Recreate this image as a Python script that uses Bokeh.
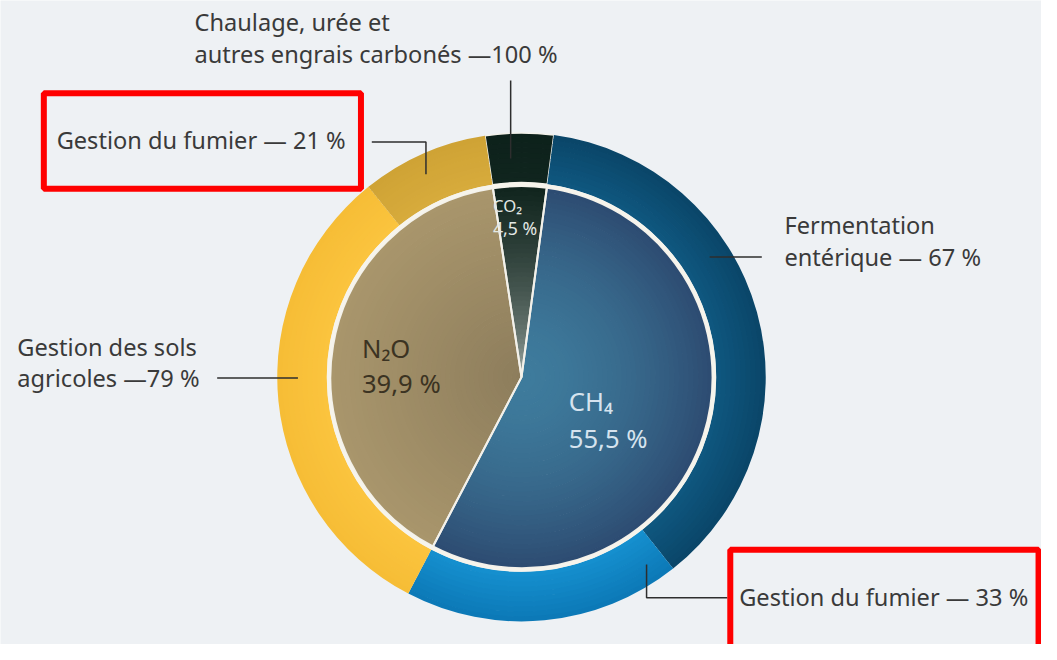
import numpy as np
from bokeh.plotting import figure
from bokeh.models import Range1d
from bokeh.embed import file_html
from bokeh.resources import INLINE
from bokeh.core.properties import value

# ---------------- data ----------------
gases = ["CO₂", "CH₄", "N₂O"]
gas_shares = [4.5, 55.5, 39.9]          # % of agricultural emissions

co2_sources = ["Chaulage, urée et autres engrais carbonés"]
co2_source_shares = [100]
ch4_sources = ["Fermentation entérique", "Gestion du fumier"]
ch4_source_shares = [67, 33]
n2o_sources = ["Gestion des sols agricoles", "Gestion du fumier"]
n2o_source_shares = [79, 21]

sources = [co2_sources, ch4_sources, n2o_sources]
source_shares = [co2_source_shares, ch4_source_shares, n2o_source_shares]

# ---------------- styles ----------------
BG = "#eef1f4"
FONT = "Noto Sans"
TXT = "#3a3a3a"
gas_grad = [("#c3ccc8", "#10241d"), ("#3e7b9c", "#2d4b71"), ("#8d7d5c", "#a9966c")]
gas_gamma = [0.45, 1.7, 1.0]
gas_text_col = ["#e2e8e5", "#d6e3ee", "#3b3322"]
src_grad = [[("#10251e", "#0d211b")],
            [("#0f5880", "#0a4568"), ("#1690cf", "#0b78b6")],
            [("#fbc43e", "#f6bd36"), ("#d7ab3c", "#cfa335")]]

W, H = 1041, 644
REF_W, REF_H = 1057, 660
S = W / REF_W
p = figure(width=W, height=H, output_backend="svg", toolbar_location=None,
           x_range=Range1d(0, REF_W), y_range=Range1d(0, REF_H),
           min_border=0, outline_line_color=None,
           background_fill_color=BG, border_fill_color=BG)
p.axis.visible = False
p.grid.visible = False

def Y(v):  # reference row -> data y
    return REF_H - v

def fpx(v):
    return f"{v * S:.1f}px"

CX, CY = 529, Y(386)
R_IN, R_SEP, R_RING0, R_OUT = 194, 196, 197.5, 248
START = -8.6  # clockwise degrees from 12 o'clock where CO2 begins

def hx(c):
    c = c.lstrip("#")
    return np.array([int(c[i:i + 2], 16) for i in (0, 2, 4)], float)

def mix(a, b, t):
    v = hx(a) * (1 - t) + hx(b) * t
    return "#%02x%02x%02x" % tuple(int(round(x)) for x in v)

def ang(theta):  # clockwise-from-top -> bokeh math degrees
    return 90 - theta

total = sum(gas_shares)
theta = START
gas_bounds = []
for gi, share in enumerate(gas_shares):
    span = share / total * 360.0
    gas_bounds.append((theta, theta + span))
    theta += span

# inner pie with radial gradient
N = 40
for gi, (t0, t1) in enumerate(gas_bounds):
    c0, c1 = gas_grad[gi]
    for k in range(N):
        r0 = R_IN * k / N
        r1 = min(R_IN * (k + 1) / N + 0.8, R_IN)
        t = ((k + 0.5) / N) ** gas_gamma[gi]
        p.annular_wedge(x=CX, y=CY, inner_radius=r0, outer_radius=r1,
                        start_angle=ang(t0), end_angle=ang(t1), direction="clock",
                        start_angle_units="deg", end_angle_units="deg",
                        fill_color=mix(c0, c1, t), line_color=None)

# white outlines of inner slices
for gi, (t0, t1) in enumerate(gas_bounds):
    p.wedge(x=CX, y=CY, radius=R_IN, start_angle=ang(t0), end_angle=ang(t1),
            direction="clock", start_angle_units="deg", end_angle_units="deg",
            fill_color=None, line_color="#f3f1ea", line_width=2)

# outer ring
M = 10
for gi, (t0, t1) in enumerate(gas_bounds):
    gspan = t1 - t0
    a = t0
    for si, s in enumerate(source_shares[gi]):
        b = a + gspan * s / 100.0
        c0, c1 = src_grad[gi][si]
        for k in range(M):
            r0 = R_RING0 + (R_OUT - R_RING0) * k / M
            r1 = min(R_RING0 + (R_OUT - R_RING0) * (k + 1) / M + 0.8, R_OUT)
            p.annular_wedge(x=CX, y=CY, inner_radius=r0, outer_radius=r1,
                            start_angle=ang(a), end_angle=ang(b), direction="clock",
                            start_angle_units="deg", end_angle_units="deg",
                            fill_color=mix(c0, c1, (k + 0.5) / M), line_color=None)
        if gi == 0:
            p.annular_wedge(x=CX, y=CY, inner_radius=R_RING0, outer_radius=R_OUT,
                            start_angle=ang(a), end_angle=ang(b), direction="clock",
                            start_angle_units="deg", end_angle_units="deg",
                            fill_color=None, line_color="#f3f1ea", line_width=1.5)
        a = b

# separating ring
p.circle(x=[CX], y=[CY], radius=R_SEP, fill_color=None,
         line_color="#f6f4ec", line_width=3.5)

# inner labels (name + share)
gas_label_pos = [(500, 210, 233, 17, 18), (577, 411, 449, 26, 26), (367, 357, 393, 26, 26)]
for gi, g in enumerate(gases):
    x0, y1, y2, fs1, fs2 = gas_label_pos[gi]
    share_txt = ("%.1f" % gas_shares[gi]).replace(".", ",") + " %"
    p.text(x=[x0], y=[Y(y1)], text=[g],
           text_font=value(FONT), text_font_size=fpx(fs1),
           text_color=gas_text_col[gi], text_align="left",
           text_baseline="middle")
    p.text(x=[x0], y=[Y(y2)], text=[share_txt],
           text_font=value(FONT), text_font_size=fpx(fs2),
           text_color=gas_text_col[gi], text_align="left",
           text_baseline="middle")

# outer labels
lab_x = [197, 197, 57, 796, 796, 17, 17, 750]
lab_y = [22, 55, 143, 230, 263, 355, 387, 611]
lab_t = ["Chaulage, urée et",
         f"autres engrais carbonés —{co2_source_shares[0]} %",
         f"Gestion du fumier — {n2o_source_shares[1]} %",
         "Fermentation",
         f"entérique — {ch4_source_shares[0]} %",
         "Gestion des sols",
         f"agricoles —{n2o_source_shares[0]} %",
         f"Gestion du fumier — {ch4_source_shares[1]} %"]
p.text(x=lab_x, y=[Y(v) for v in lab_y], text=lab_t,
       text_font=value(FONT), text_font_size=fpx(24), text_color=TXT,
       text_align="left", text_baseline="middle")

# leader lines
lx = [[518, 518], [377, 432, 432], [720, 773], [220, 302], [656, 656, 738]]
ly = [[82, 162], [145, 145, 178], [263, 263], [387, 387], [578, 612, 612]]
p.multi_line(xs=lx, ys=[[Y(v) for v in l] for l in ly],
             line_color="#2e2e2e", line_width=1.5)

# red highlight boxes
p.quad(left=[44, 741], right=[366, 1054], top=[Y(95), Y(563)],
       bottom=[Y(193), Y(700)], fill_color=None, line_color="#ff0000",
       line_width=6)

open("out.html", "w").write(file_html(p, INLINE))
